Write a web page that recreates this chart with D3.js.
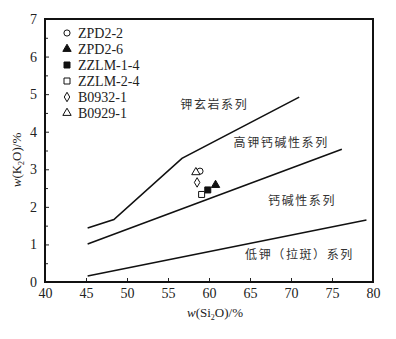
<!DOCTYPE html>
<html lang="zh">
<head>
<meta charset="UTF-8">
<title>K2O-SiO2</title>
<script src="https://cdn.jsdelivr.net/npm/d3@7/dist/d3.min.js"></script>
<style>
  body { margin: 0; background: #fff; }
  svg text { font-family: "Liberation Serif", "DejaVu Serif", serif; fill: #222; }
  .cn { font-family: "Noto Sans CJK SC", sans-serif; font-size: 12px; letter-spacing: 1.6px; fill: #333; }
</style>
</head>
<body>
<svg id="chart" width="396" height="339"></svg>
<script>
// samples
const names = ['ZPD2-2', 'ZPD2-6', 'ZZLM-1-4', 'ZZLM-2-4', 'B0932-1', 'B0929-1']
const sio2 = [58.9, 60.8, 59.85, 59.1, 58.55, 58.4]
const k2o = [2.95, 2.58, 2.45, 2.33, 2.65, 2.92]
const shapes = ['circle', 'triangle', 'square', 'square', 'diamond', 'triangle']
const filled = [false, true, true, false, false, false]

// boundary lines
const shoshoniteLine = [[45.2, 1.44], [48.4, 1.66], [56.7, 3.29], [71, 4.92]]
const highKLine = [[45.2, 1.01], [76.2, 3.53]]
const lowKLine = [[45.2, 0.16], [79.2, 1.65]]

// series labels
const seriesLabels = ['钾玄岩系列', '高钾钙碱性系列', '钙碱性系列', '低钾（拉斑）系列']
const labelPos = [[56.5, 4.6], [63, 3.6], [67.2, 2.05], [64.4, 0.62]]

const xTicks = [40, 45, 50, 55, 60, 65, 70, 75, 80]
const yTicks = [0, 1, 2, 3, 4, 5, 6, 7]
const yMinor = [0.5, 1.5, 2.5, 3.5, 4.5, 5.5, 6.5]

const svg = d3.select('#chart')
const x = d3.scaleLinear().domain([40, 80]).range([45, 373])
const y = d3.scaleLinear().domain([0, 7]).range([282, 19])

// axes (ticks inside)
svg.append('g')
  .attr('transform', `translate(0,${y(0)})`)
  .call(d3.axisBottom(x).tickValues(xTicks).tickSize(-4).tickPadding(6).tickSizeOuter(0).tickFormat(d3.format('d')))
svg.append('g')
  .attr('transform', `translate(${x(40)},0)`)
  .call(d3.axisLeft(y).tickValues(yTicks).tickSize(-4).tickPadding(8).tickSizeOuter(0).tickFormat(d3.format('d')))
svg.append('g')
  .attr('transform', `translate(${x(40)},0)`)
  .call(d3.axisLeft(y).tickValues(yMinor).tickSize(-3).tickFormat('').tickSizeOuter(0))
svg.selectAll('.tick text').attr('font-size', 14).attr('font-family', '"Liberation Serif", serif').attr('fill', '#222')
svg.selectAll('.tick line').attr('stroke', '#222')
svg.selectAll('.domain').attr('stroke', 'none')

// frame
svg.append('rect')
  .attr('x', x(40)).attr('y', y(7))
  .attr('width', x(80) - x(40)).attr('height', y(0) - y(7))
  .attr('fill', 'none').attr('stroke', '#111').attr('stroke-width', 2)

// boundary lines
const line = d3.line().x(d => x(d[0])).y(d => y(d[1]))
svg.selectAll('path.bound')
  .data([shoshoniteLine, highKLine, lowKLine])
  .enter().append('path')
  .attr('class', 'bound')
  .attr('d', line)
  .attr('fill', 'none').attr('stroke', '#111').attr('stroke-width', 1.6)

// series labels
svg.selectAll('text.cn')
  .data(seriesLabels)
  .enter().append('text')
  .attr('class', 'cn')
  .attr('x', (d, i) => x(labelPos[i][0]))
  .attr('y', (d, i) => y(labelPos[i][1]))
  .text(d => d)

// markers
const sym = {
  circle: d3.symbol(d3.symbolCircle, 30),
  triangle: d3.symbol(d3.symbolTriangle, 30),
  square: d3.symbol(d3.symbolSquare, 36),
  diamond: d3.symbol(d3.symbolDiamond, 26)
}
function marker(g, i) {
  g.append('path')
    .attr('d', sym[shapes[i]]())
    .attr('fill', filled[i] ? '#111' : '#fff')
    .attr('stroke', '#111').attr('stroke-width', 1)
}

names.forEach((n, i) => {
  const g = svg.append('g').attr('transform', `translate(${x(sio2[i])},${y(k2o[i])})`)
  marker(g, i)
})

// legend
const legend = svg.append('g').attr('transform', 'translate(67,33)')
names.forEach((n, i) => {
  const row = legend.append('g').attr('transform', `translate(0,${i * 16})`)
  marker(row, i)
  row.append('text').attr('x', 11).attr('y', 5).attr('font-size', 14).text(n)
})

// axis titles
const xt = svg.append('text')
  .attr('x', 215).attr('y', 317).attr('text-anchor', 'middle').attr('font-size', 13)
xt.append('tspan').attr('font-style', 'italic').text('w')
xt.append('tspan').text('(Si')
xt.append('tspan').attr('font-size', 8).attr('dy', 3).text('2')
xt.append('tspan').attr('dy', -3).text('O)/%')

const yt = svg.append('text')
  .attr('transform', 'translate(21,160) rotate(-90)')
  .attr('text-anchor', 'middle').attr('font-size', 13)
yt.append('tspan').attr('font-style', 'italic').text('w')
yt.append('tspan').text('(K')
yt.append('tspan').attr('font-size', 8).attr('dy', 3).text('2')
yt.append('tspan').attr('dy', -3).text('O)/%')
</script>
</body>
</html>
